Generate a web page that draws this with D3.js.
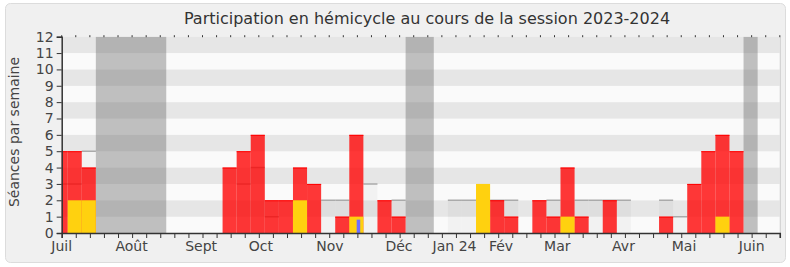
<!DOCTYPE html>
<html><head><meta charset="utf-8">
<script src="https://cdn.jsdelivr.net/npm/d3@7"></script>
<style>
html,body{margin:0;padding:0;background:#fff;}
svg{display:block;font-family:"DejaVu Sans",sans-serif;}
</style></head>
<body><svg id="c" width="790" height="267"></svg>
<script>
// ---- data ----
const title = "Participation en hémicycle au cours de la session 2023-2024";
const yLabel = "Séances par semaine";
const weekCount = 51;
// week index 0..51
const presence = [5,5,4,0,0,0,0,0,0,0,0,0,4,5,6,2,2,4,3,0,1,6,0,2,1,0,0,0,0,0,0,2,1,0,2,1,4,1,0,2,0,0,0,1,0,3,5,6,5,0,0,0];
const interventions = [0,2,2,0,0,0,0,0,0,0,0,0,0,0,0,0,0,2,0,0,0,1,0,0,0,0,0,0,0,0,3,0,0,0,0,0,1,0,0,0,0,0,0,0,0,0,0,1,0,0,0,0];
const questions = [0,0,0,0,0,0,0,0,0,0,0,0,0,0,0,0,0,0,0,0,0,1,0,0,0,0,0,0,0,0,0,0,0,0,0,0,0,0,0,0,0,0,0,0,0,0,0,0,0,0,0,0];
const median = [3,3,5,0,0,0,0,0,0,0,0,0,0,3,4,1,0,0,0,2,2,0,3,0,2,0,0,0,2,2,0,2,2,0,0,2,0,2,2,2,2,0,0,2,1,0,0,0,0,0,0,0];
const vacations = [[3,7],[25,26],[49,49]];
const monthLabels = ["Juil","Août","Sept","Oct","Nov","Déc","Jan 24","Fév","Mar","Avr","Mai","Juin"];
const monthWeeks = [0,4.96,9.9,14.15,19.05,23.95,27.9,31.2,35.2,39.9,44.2,49.0];
const yTicks = d3.range(0,13);

// ---- layout ----
const L=61.7, R=779.8, T=36.7, B=233;
const x = d3.scaleLinear().domain([0,weekCount]).range([L,R]);
const y = d3.scaleLinear().domain([0,12]).range([B,T]);
const bl = k => x(k-0.575), br = k => x(k+0.425);
const svg = d3.select("#c");

svg.append("rect").attr("x",5.5).attr("y",3.5).attr("width",780).attr("height",259)
  .attr("rx",5).attr("fill","#f0f0f0").attr("stroke","#dcdcdc");

svg.append("defs").append("clipPath").attr("id","pc").append("rect")
  .attr("x",L).attr("y",T).attr("width",R-L).attr("height",B-T);
const g = svg.append("g").attr("clip-path","url(#pc)");

// bands
g.selectAll("rect.band").data(d3.range(0,12)).join("rect")
  .attr("x",L).attr("width",R-L).attr("y",d=>y(d+1)).attr("height",d=>y(d)-y(d+1))
  .attr("fill",d=>d%2===0?"#fafafa":"#e6e6e6");

const idx = d3.range(0,weekCount+1);
// median columns
g.selectAll("rect.med").data(idx.filter(k=>median[k]>0)).join("rect")
  .attr("x",k=>bl(k)).attr("width",k=>br(k)-bl(k)).attr("y",k=>y(median[k])).attr("height",k=>B-y(median[k]))
  .attr("fill","rgba(0,0,0,0.03)");
g.selectAll("line.med").data(idx.filter(k=>median[k]>0)).join("line")
  .attr("x1",k=>bl(k)).attr("x2",k=>br(k)).attr("y1",k=>y(median[k])).attr("y2",k=>y(median[k]))
  .attr("stroke","#aaaaaa").attr("stroke-width",1.5);

// vacations
g.selectAll("rect.vac").data(vacations).join("rect")
  .attr("x",d=>bl(d[0])).attr("width",d=>br(d[1])-bl(d[0])).attr("y",T).attr("height",B-T)
  .attr("fill","rgba(110,110,110,0.42)");

// presence
const pk = idx.filter(k=>presence[k]>0);
g.selectAll("rect.pr").data(pk).join("rect")
  .attr("x",k=>bl(k)).attr("width",k=>br(k)-bl(k)).attr("y",k=>y(presence[k])).attr("height",k=>B-y(presence[k]))
  .attr("fill","rgba(255,0,0,0.78)");
g.selectAll("line.pr").data(pk).join("line")
  .attr("x1",k=>bl(k)).attr("x2",k=>br(k)).attr("y1",k=>y(presence[k])+0.5).attr("y2",k=>y(presence[k])+0.5)
  .attr("stroke","#ff0000").attr("stroke-width",1);

// interventions
g.selectAll("rect.iv").data(idx.filter(k=>interventions[k]>0)).join("rect")
  .attr("x",k=>bl(k)).attr("width",k=>br(k)-bl(k)).attr("y",k=>y(interventions[k])).attr("height",k=>B-y(interventions[k]))
  .attr("fill","#ffd10f");
// questions
g.selectAll("rect.q").data(idx.filter(k=>questions[k]>0)).join("rect")
  .attr("x",k=>x(k-0.05)).attr("width",k=>x(k+0.2)-x(k-0.05)).attr("y",k=>y(questions[k])+3).attr("height",k=>B-y(questions[k])-3)
  .attr("fill","#6f6fff");

// right border
svg.append("line").attr("x1",R+0.5).attr("x2",R+0.5).attr("y1",T).attr("y2",B).attr("stroke","#cfcfcf");

// top dots
svg.selectAll("line.td").data(idx).join("line")
  .attr("x1",k=>x(k)).attr("x2",k=>x(k)).attr("y1",T-1.5).attr("y2",T+0.5)
  .attr("stroke","#333").attr("stroke-width",1);

// axes
const ax = svg.append("g").attr("transform",`translate(0,${B})`)
  .call(d3.axisBottom(x).tickValues(idx).tickSize(5).tickFormat(""));
ax.select(".domain").attr("stroke","#333").attr("stroke-width",1.5);
ax.selectAll(".tick line").attr("stroke","#333");
svg.selectAll("text.mon").data(monthLabels).join("text")
  .attr("x",(d,i)=>x(monthWeeks[i])).attr("y",251)
  .attr("text-anchor","middle").attr("font-size",14).attr("fill","#444").text(d=>d);

const ay = svg.append("g").attr("transform",`translate(${L},0)`)
  .call(d3.axisLeft(y).tickValues(yTicks).tickSize(5).tickPadding(3));
ay.select(".domain").attr("stroke","#333").attr("stroke-width",1.5);
ay.selectAll(".tick line").attr("stroke","#333");
ay.selectAll("text").attr("font-size",14).attr("fill","#444").attr("font-family","DejaVu Sans");

svg.append("text").attr("transform","translate(18.5,132) rotate(-90)")
  .attr("text-anchor","middle").attr("font-size",14).attr("fill","#444").text(yLabel);
svg.append("text").attr("x",427).attr("y",24).attr("text-anchor","middle")
  .attr("font-size",16).attr("fill","#333").text(title);
</script></body></html>
